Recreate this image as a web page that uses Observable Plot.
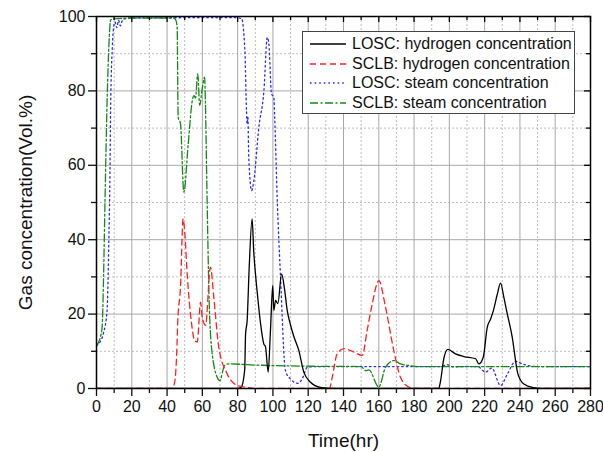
<!DOCTYPE html>
<html>
<head>
<meta charset="utf-8">
<script src="https://cdn.jsdelivr.net/npm/d3@7"></script>
<script src="https://cdn.jsdelivr.net/npm/@observablehq/plot@0.6"></script>
<style>
  body { margin: 0; background: #fff; }
  #wrap { position: relative; width: 603px; height: 452px; font-family: "Liberation Sans", Arial, sans-serif; }
  #legend { position: absolute; left: 302px; top: 31px; width: 271px; height: 79px; border: 1.2px solid #444; background: #fff; box-sizing: content-box; padding-top: 2px; }
  .row { display: flex; align-items: center; height: 19.7px; font-size: 16px; color: #111; white-space: nowrap; }
  .row svg { margin-left: 7px; margin-right: 6px; }
</style>
</head>
<body>
<div id="wrap"></div>
<script>
// ---------- data ----------
const xMajor = [0, 20, 40, 60, 80, 100, 120, 140, 160, 180, 200, 220, 240, 260, 280];
const xMinor = [10, 30, 50, 70, 90, 110, 130, 150, 170, 190, 210, 230, 250, 270];
const yMajor = [0, 20, 40, 60, 80, 100];
const yMinor = [10, 30, 50, 70, 90];

const seriesNames = [
  "LOSC: hydrogen concentration",
  "SCLB: hydrogen concentration",
  "LOSC: steam concentration",
  "SCLB: steam concentration"
];

// LOSC hydrogen (black, solid)
const loscH_t = [0, 80, 82, 84, 84.5, 85.4, 86.5, 88.2, 89.1, 90.1, 91, 93, 94.8, 95.8, 97.3, 98.6, 99.9, 100.5, 101.5, 102.8, 104.9, 106.5, 108.1, 110, 111.9, 114.7, 117.5, 121.3, 127, 135, 194, 195, 197, 199.2, 203.5, 208.2, 214.9, 216.7, 219.2, 221.5, 223.4, 225, 227.2, 229, 230.9, 232.4, 235.6, 238.8, 242.2, 247.9, 252, 280];
const loscH_v = [0, 0, 0.3, 5, 14.7, 18.3, 32, 45.6, 37, 30.8, 26.3, 17.4, 12, 11.2, 4.4, 15.6, 27.7, 21, 23.7, 22.8, 30.8, 27, 21, 17, 13.9, 10.2, 4.4, 1.7, 0.3, 0, 0, 2, 8.4, 10.5, 9.3, 8.6, 8, 6.6, 8.4, 16.5, 18.7, 21, 25.4, 28.3, 24.5, 21, 13.9, 4, 1.2, 0.2, 0, 0];

// SCLB hydrogen (red, dashed)
const sclbH_t = [0, 43, 44.4, 45.5, 46, 47.6, 49.1, 50, 51.4, 53.9, 55.5, 57.1, 59, 59.9, 61.8, 64.6, 66.5, 69.3, 74, 79.8, 85, 90, 132, 133.6, 136.4, 140.2, 145, 150.6, 153.4, 156.3, 160, 163.8, 168.5, 172.3, 177, 180, 280];
const sclbH_v = [0, 0, 2, 10, 17.4, 27.2, 45.6, 42, 30.8, 17.4, 13, 12.5, 23.2, 19.2, 17, 32.6, 24.5, 11.1, 4, 0.8, 0.3, 0, 0, 3, 9.3, 10.7, 10, 8.9, 15.6, 22.8, 29, 21.9, 10.2, 3, 0.4, 0, 0];

// LOSC steam (blue, dotted)
const loscS_t = [0, 2, 4, 6, 7, 7.5, 8, 9, 9.7, 10.5, 11.5, 12.5, 13.5, 15, 20, 80, 81.6, 82.2, 84.1, 85, 85.4, 85.8, 86.3, 87.9, 89.2, 92, 94.9, 96.8, 97.7, 99.2, 100.5, 101, 102.4, 104.3, 107.1, 110, 114.3, 117, 119.4, 125, 195, 198.8, 202, 210, 216, 220.5, 224, 229, 233, 237.5, 242, 250, 280];
const loscS_v = [11.5, 12.5, 15, 21, 40, 53, 75, 92, 97, 98.5, 97, 99, 97.5, 99.3, 99.6, 99.7, 99.5, 99.5, 90.9, 74.7, 71.2, 72.9, 62.2, 53.2, 55.9, 70.2, 80.1, 94.4, 92.6, 79.2, 78.3, 72.9, 51.4, 30, 4.8, 2.5, 1.4, 3, 5.7, 5.9, 5.9, 6.4, 5.8, 5.9, 5.9, 4.4, 5.5, 0.8, 4, 7.3, 6.5, 5.9, 5.9];

// SCLB steam (green, dash-dot)
const sclbS_t = [0, 1, 2, 3.2, 4, 4.8, 6, 7, 8, 9, 20, 43.8, 45, 45.7, 46.3, 47.6, 49.5, 52, 54.3, 55.2, 56.1, 57.4, 58.5, 59.9, 61.3, 61.7, 62.7, 63.7, 65, 68.4, 69.9, 72.6, 75, 90, 120, 150, 152.5, 154.4, 160, 163.8, 168.5, 172.3, 177, 182, 280];
const sclbS_v = [11.5, 12.3, 13.5, 16.5, 30, 50, 77, 92, 99, 99.3, 99.6, 99.6, 99, 97, 72.9, 71.2, 52.8, 65.8, 77.4, 78.8, 78.1, 84.6, 76.1, 80.5, 83.7, 77.4, 50.5, 26.3, 12, 3, 2.1, 6.2, 6.6, 6.3, 6.0, 5.9, 4.8, 5, 0.4, 5.7, 7.5, 6.6, 6.2, 5.9, 5.9];

// ---------- styles ----------
const styles = [
  {color: "#000000", dash: null},
  {color: "#ff2020", dash: "6,4"},
  {color: "#2b2bff", dash: "1.6,3"},
  {color: "#138a13", dash: "8,2.5,2,2.5"}
];

const W = 603, H = 452, ML = 96, MR = 13, MT = 16, MB = 64;
const FW = W - ML - MR, FH = H - MT - MB;

const rows = (ts, vs) => ts.map((t, i) => ({t, v: vs[i]}));
const lineMark = (ts, vs, s) => Plot.line(rows(ts, vs), {
  x: "t", y: "v", stroke: s.color, strokeWidth: 1.3,
  strokeDasharray: s.dash, curve: "monotone-x", clip: true
});

const chart = Plot.plot({
  width: W,
  height: H,
  marginLeft: ML,
  marginRight: MR,
  marginTop: MT,
  marginBottom: MB,
  style: {fontFamily: "Liberation Sans, Arial, sans-serif", color: "#111", background: "white"},
  x: {domain: [0, 280]},
  y: {domain: [0, 100]},
  marks: [
    Plot.gridX(xMinor, {stroke: "#bdbdbd", strokeOpacity: 1, strokeDasharray: "2,2"}),
    Plot.gridY(yMinor, {stroke: "#bdbdbd", strokeOpacity: 1, strokeDasharray: "2,2"}),
    Plot.gridX(xMajor, {stroke: "#a8a8a8", strokeOpacity: 1}),
    Plot.gridY(yMajor, {stroke: "#a8a8a8", strokeOpacity: 1}),
    lineMark(loscS_t, loscS_v, styles[2]),
    lineMark(sclbS_t, sclbS_v, styles[3]),
    lineMark(loscH_t, loscH_v, styles[0]),
    lineMark(sclbH_t, sclbH_v, styles[1]),
    Plot.frame({stroke: "#000", strokeWidth: 1.5}),
    // bottom axis
    Plot.axisX(xMajor, {anchor: "bottom", tickSize: 8, tickPadding: 4, fontSize: 16, strokeWidth: 1.3, label: null}),
    Plot.axisX(xMinor, {anchor: "bottom", tickSize: 5, tickFormat: () => "", strokeWidth: 1.3, label: null}),
    Plot.axisX([], {anchor: "bottom", label: "Time(hr)", labelAnchor: "center", labelArrow: "none", labelOffset: 58, fontSize: 19}),
    // top axis (inward ticks)
    Plot.ruleX(xMajor, {stroke: "#000", strokeWidth: 1.3, insetBottom: FH - 6}),
    Plot.ruleX(xMinor, {stroke: "#000", strokeWidth: 1.3, insetBottom: FH - 4}),
    // left axis
    Plot.axisY(yMajor, {anchor: "left", tickSize: 8, tickPadding: 3, fontSize: 16, strokeWidth: 1.3, label: null}),
    Plot.axisY(yMinor, {anchor: "left", tickSize: 5, tickFormat: () => "", strokeWidth: 1.3, label: null}),
    Plot.axisY([], {anchor: "left", label: "Gas concentration(Vol.%)", labelAnchor: "center", labelArrow: "none", labelOffset: 78.5, fontSize: 19}),
    // right axis (inward ticks)
    Plot.ruleY(yMajor, {stroke: "#000", strokeWidth: 1.3, insetLeft: FW - 6}),
    Plot.ruleY(yMinor, {stroke: "#000", strokeWidth: 1.3, insetLeft: FW - 4})
  ]
});

const wrap = document.getElementById("wrap");
wrap.appendChild(chart);

// legend
const legend = document.createElement("div");
legend.id = "legend";
seriesNames.forEach((name, i) => {
  const s = styles[i];
  const row = document.createElement("div");
  row.className = "row";
  row.innerHTML = `<svg width="36" height="6"><line x1="0" y1="3" x2="36" y2="3" stroke="${s.color}" stroke-width="1.3" ${s.dash ? `stroke-dasharray="${s.dash}"` : ""}/></svg><span>${name}</span>`;
  legend.appendChild(row);
});
wrap.appendChild(legend);
</script>
</body>
</html>
